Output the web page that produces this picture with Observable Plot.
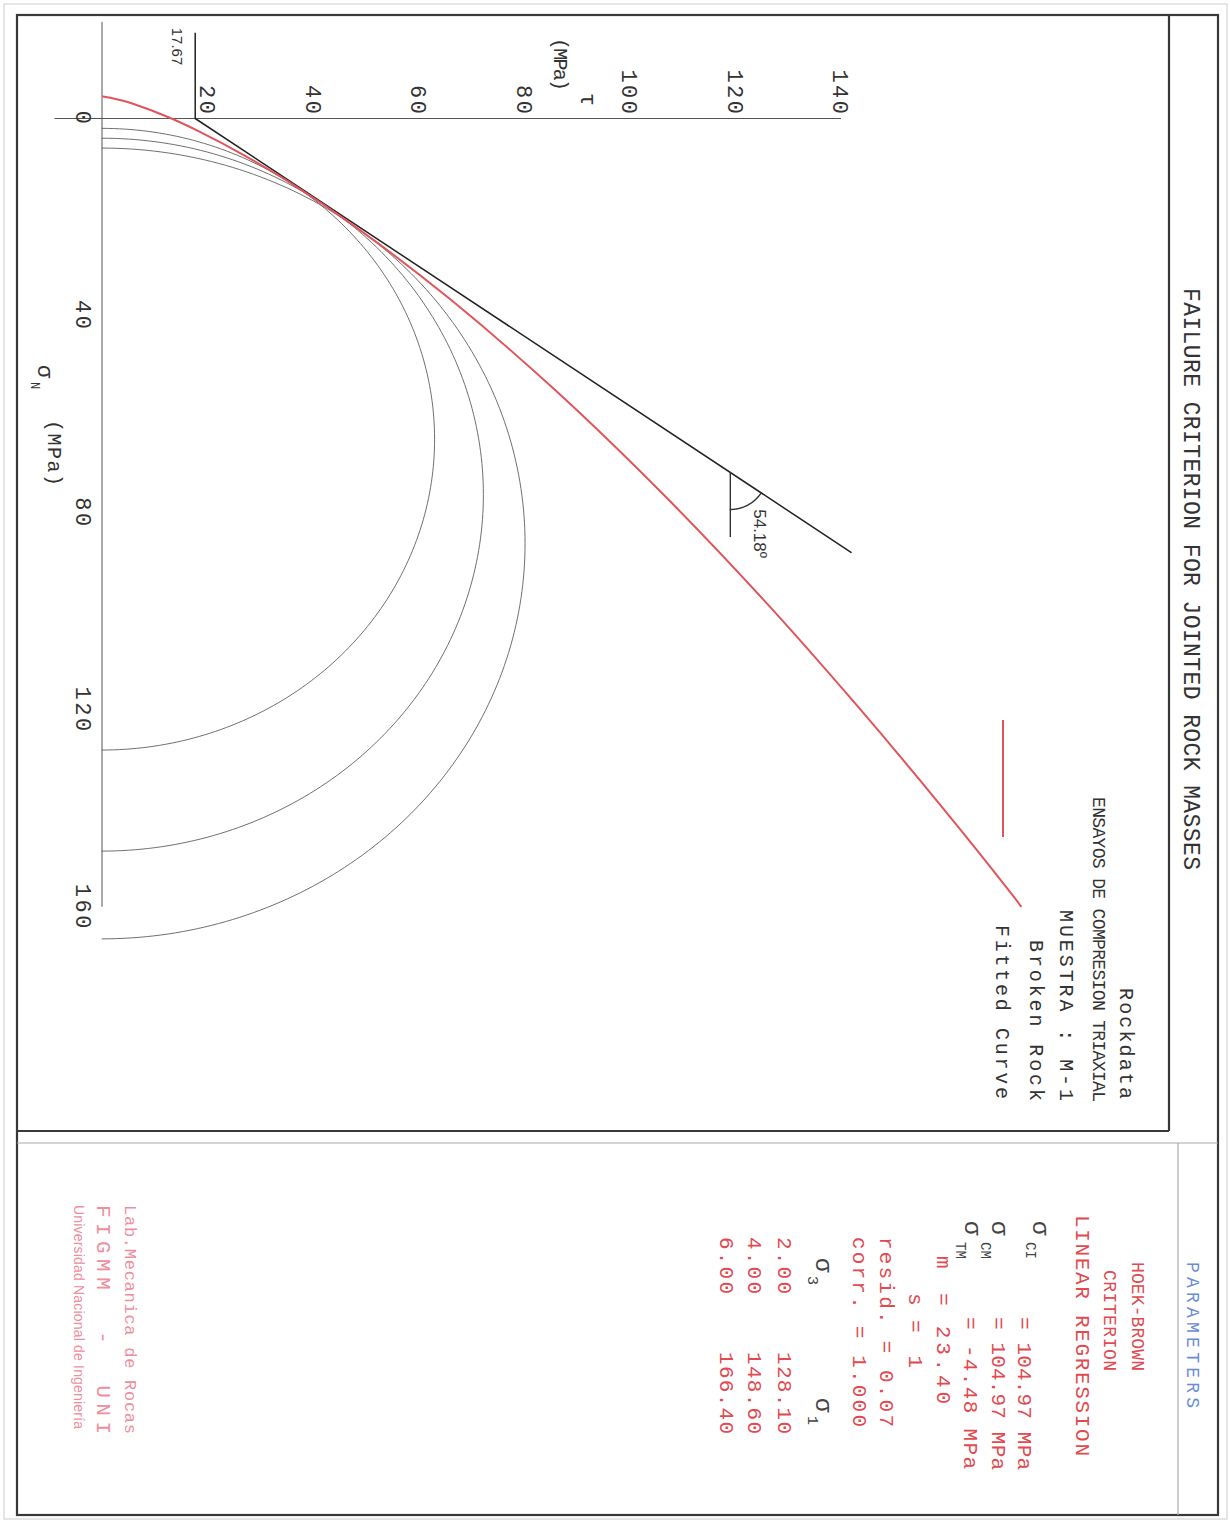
<!DOCTYPE html>
<html><head><meta charset="utf-8">
<script src="https://cdn.jsdelivr.net/npm/d3@7"></script>
<script src="https://cdn.jsdelivr.net/npm/@observablehq/plot@0.6"></script>
<style>
html,body{margin:0;padding:0;background:#fff;overflow:hidden;width:1230px;height:1522px;}
#page{position:absolute;left:0;top:0;width:1522px;height:1230px;transform-origin:0 0;transform:translate(1230px,0) rotate(90deg);background:#fff;}
#page svg{position:absolute;left:0;top:0;overflow:visible;}
</style></head><body><div id="page"></div>
<script>
// ---------------- data ----------------
const sigmaTicks = [0, 40, 80, 120, 160];
const tauTicks = [20, 40, 60, 80, 100, 120, 140];
const sigma3 = [2.00, 4.00, 6.00];
const sigma1 = [128.10, 148.60, 166.40];
const cohesion = 17.67;
const frictionAngle = 54.18;
const lineEndSigma = 88.0;
const lineEndTau = 142.0;
const angleMarkSigma = 71.8;
// fitted Hoek-Brown curve (sigma_n, tau)
const hbSigmaN = [-4.48, -4.23, -3.65, -3.08, -0.30, 2.41, 7.66, 12.76, 22.63, 36.83, 54.99, 76.79, 97.85, 118.3, 138.3, 157.8, 159.8];
const hbTau    = [0.2, 1.6, 3.8, 5.6, 12.5, 18.0, 27.3, 35.3, 48.9, 66.2, 85.8, 106.9, 125.6, 142.5, 158.2, 172.8, 174.2];
const paramLabels = ["CI", "CM", "TM"];
const paramValues = ["= 104.97 MPa", "= 104.97 MPa", "= -4.48 MPa"];
const mValue = "23.40", sValue = "1", residValue = "0.07", corrValue = "1.000";
const titleText = "FAILURE CRITERION FOR JOINTED ROCK MASSES";
const infoLines = ["Rockdata", "ENSAYOS DE COMPRESION TRIAXIAL", "MUESTRA : M-1", "Broken Rock"];
const legendLabel = "Fitted Curve";
const footerLines = ["Lab.Mecanica de Rocas", "FIGMM  -  UNI", "Universidad Nacional de Ingeniería"];

// ---------------- derived geometry ----------------
const circ = [];
sigma3.forEach((s3, i) => {
  const c = (sigma1[i] + s3) / 2, r = (sigma1[i] - s3) / 2;
  for (let a = 0; a <= 180; a += 1) {
    const t = a * Math.PI / 180;
    circ.push({id: i, s: c - r * Math.cos(t), t: r * Math.sin(t)});
  }
});
const hb = hbSigmaN.map((s, i) => ({s, t: hbTau[i]}));
const mc = [{s: 0, t: cohesion}, {s: lineEndSigma, t: lineEndTau}];
const slope = (lineEndTau - cohesion) / lineEndSigma;
const aTau = cohesion + slope * angleMarkSigma;

const W = 1522, H = 1230, mL = 118, mB = 102.5;
const kx = 4.93, ky = 5.275;
const xMax = (W - mL) / kx, yMax = (H - mB) / ky;
// arc for the angle marker (pixel radius 37)
const pxAng = Math.atan2(ky * slope, kx);
const arc = d3.range(0, 61).map(k => {
  const th = pxAng * k / 60;
  return {s: angleMarkSigma + 37 * Math.cos(th) / kx, t: aTau + 37 * Math.sin(th) / ky};
});

const red = "#e0555b";
const plot = Plot.plot({
  width: W, height: H, marginLeft: mL, marginRight: 0, marginTop: 0, marginBottom: mB,
  x: {domain: [0, xMax]}, y: {domain: [0, yMax]},
  style: {fontFamily: "Liberation Mono", fontSize: "22px", color: "#333", background: "transparent", overflow: "visible"},
  marks: [
    Plot.ruleY([0], {x1: -19.5, x2: 160, stroke: "#555", strokeWidth: 1}),
    Plot.ruleX([0], {y1: -9.1, y2: 140, stroke: "#555", strokeWidth: 1}),
    Plot.axisX(sigmaTicks, {tickSize: 0, tickPadding: 10, label: null, fontSize: 22, fill: "#333"}),
    Plot.axisY(tauTicks, {tickSize: 0, tickPadding: 2, label: null, fontSize: 22, fill: "#333"}),
    Plot.line(circ, {x: "s", y: "t", z: "id", stroke: "#606060", strokeWidth: 0.9}),
    Plot.ruleY([cohesion], {x1: -17.3, x2: 0, stroke: "#222", strokeWidth: 1.5}),
    Plot.text([cohesion], {x: -14.6, y: d => d, dy: 18, text: d => d.toFixed(2), fontFamily: "Liberation Sans", fontSize: 15, fill: "#333"}),
    Plot.line(mc, {x: "s", y: "t", stroke: "#222", strokeWidth: 1.5}),
    Plot.ruleY([aTau], {x1: angleMarkSigma, x2: angleMarkSigma + 13.2, stroke: "#333", strokeWidth: 1.4}),
    Plot.line(arc, {x: "s", y: "t", stroke: "#333", strokeWidth: 1.4}),
    Plot.text([frictionAngle], {x: 84.2, y: 124.6, text: d => d.toFixed(2) + "º", fontFamily: "Liberation Sans", fontSize: 17, fill: "#333"}),
    Plot.line(hb, {x: "s", y: "t", stroke: red, strokeWidth: 2, curve: "catmull-rom"})
  ]
});
d3.select(plot).selectAll('g[aria-label$="tick label"] text').attr("letter-spacing", 2.5);
document.getElementById("page").appendChild(plot);

// ---------------- frame & texts overlay ----------------
const ov = d3.select("#page").append("svg").attr("width", W).attr("height", H);
function line(x1, y1, x2, y2, stroke, w) {
  ov.append("line").attr("x1", x1).attr("y1", y1).attr("x2", x2).attr("y2", y2).attr("stroke", stroke).attr("stroke-width", w);
}
function txt(x, y, s, o = {}) {
  const t = ov.append("text").attr("x", x).attr("y", y).text(s)
    .attr("font-family", o.family || "Liberation Mono").attr("font-size", o.size || 20)
    .attr("fill", o.fill || "#333").style("white-space", "pre");
  if (o.len) t.attr("textLength", o.len).attr("lengthAdjust", "spacing");
  if (o.anchor) t.attr("text-anchor", o.anchor);
  return t;
}
ov.append("rect").attr("x", 4).attr("y", 3).attr("width", 1515).attr("height", 1223).attr("fill", "none").attr("stroke", "#ccc").attr("stroke-width", 1);
ov.append("rect").attr("x", 15).attr("y", 12).attr("width", 1500).attr("height", 1201).attr("fill", "none").attr("stroke", "#383838").attr("stroke-width", 2.2);
line(15, 61, 1131, 61, "#383838", 2.2);
line(1131, 61, 1131, 1213, "#383838", 2.2);
line(1143, 12, 1143, 1213, "#aaa", 1.2);
line(1143, 52, 1515, 52, "#aaa", 1.2);

// title
txt(288, 46, titleText, {size: 23, len: 582});
// info block
txt(988, 110, infoLines[0], {size: 20, len: 111});
txt(797, 137, infoLines[1], {size: 18, len: 305});
txt(910, 170, infoLines[2], {size: 20, len: 191});
txt(940, 200, infoLines[3], {size: 20, len: 161});
txt(925, 234, legendLabel, {size: 20, len: 174});
line(720, 227, 837, 227, red, 2);

// axis titles
txt(93, 649, "τ", {size: 22});
txt(38, 676, "(MPa)", {size: 20, len: 53});
txt(365, 1192, "σ", {size: 22});
txt(382, 1199, "N", {size: 12});
txt(420, 1182, "(MPa)", {size: 20, len: 66});

// parameters panel
const pr = "#e04a50";
txt(1262, 43, "PARAMETERS", {size: 18, len: 146, fill: "#6a8cd4"});
txt(1262, 98, "HOEK-BROWN", {size: 18, len: 109, fill: pr});
txt(1270, 126, "CRITERION", {size: 18, len: 101, fill: pr});
txt(1215, 154, "LINEAR REGRESSION", {size: 21, len: 241, fill: pr});
const sigY = [197, 238, 265], subY = [204, 249, 274], valY = [212, 238, 266];
paramLabels.forEach((l, i) => {
  txt(1221, sigY[i], "σ", {size: 24, fill: "#444"});
  txt(1242, subY[i], l, {size: 14, fill: "#444"});
  txt(1317, valY[i], paramValues[i], {size: 21, len: i === 2 ? 152 : 153, fill: pr});
});
txt(1256, 293, "m", {size: 21, fill: pr});
txt(1293, 293, "= " + mValue, {size: 21, len: 111, fill: pr});
txt(1293, 321, "s", {size: 21, fill: pr});
txt(1320, 321, "= " + sValue, {size: 21, len: 48, fill: pr});
txt(1237, 350, "resid. = " + residValue, {size: 21, len: 190, fill: pr});
txt(1237, 377, "corr. = " + corrValue, {size: 21, len: 190, fill: pr});
txt(1258, 414, "σ", {size: 24, fill: "#444"});
txt(1276, 422, "3", {size: 15, fill: "#444"});
txt(1398, 414, "σ", {size: 24, fill: "#444"});
txt(1416, 422, "1", {size: 15, fill: "#444"});
const rowY = [452, 482, 510];
sigma3.forEach((s3, i) => {
  txt(1237, rowY[i], s3.toFixed(2), {size: 21, len: 57, fill: pr});
  txt(1352, rowY[i], sigma1[i].toFixed(2), {size: 21, len: 82, fill: pr});
});
// footer
const pk = "#ef8e9e";
txt(1205, 1105, footerLines[0], {size: 17, len: 229, fill: pk});
txt(1205, 1133, footerLines[1], {size: 21, len: 229, fill: pk});
txt(1205, 1156, footerLines[2], {size: 14, len: 224, fill: pk, family: "Liberation Sans Narrow, Liberation Sans"});
</script></body></html>
